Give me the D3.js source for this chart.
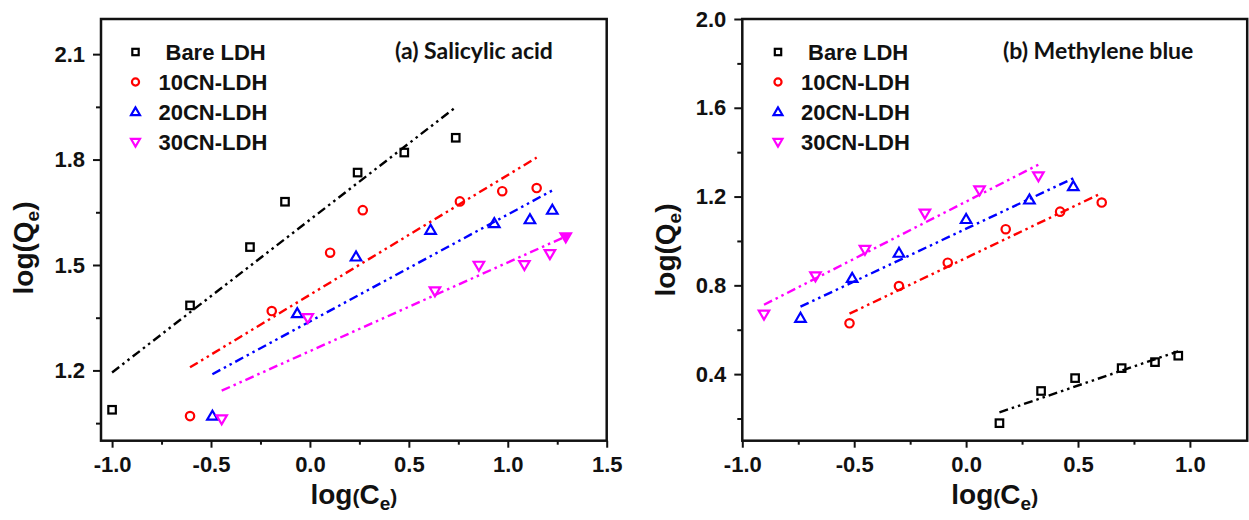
<!DOCTYPE html>
<html><head><meta charset="utf-8">
<script src="https://cdn.jsdelivr.net/npm/d3@7"></script>
<style>
html,body{margin:0;padding:0;background:#fff;}
svg{display:block;}
text{font-family:"Liberation Sans",Arial,sans-serif;font-weight:bold;fill:#111;}
.title{font-family:Lato,"Open Sans",sans-serif;font-weight:bold;}
</style></head>
<body>
<svg id="chart" width="1249" height="520"></svg>
<script>
// ---------- data ----------
const seriesNames = ["Bare LDH", "10CN-LDH", "20CN-LDH", "30CN-LDH"];
const seriesColors = ["#000000", "#ff0000", "#0000ff", "#ff00ff"];

// (a) Salicylic acid
const bareA_x = [-1.0, -0.606, -0.303, -0.126, 0.241, 0.477, 0.737];
const bareA_y = [1.088, 1.385, 1.551, 1.680, 1.763, 1.820, 1.862];
const cn10A_x = [-0.606, -0.193, 0.102, 0.267, 0.758, 0.972, 1.146];
const cn10A_y = [1.070, 1.369, 1.535, 1.656, 1.681, 1.710, 1.719];
const cn20A_x = [-0.493, -0.064, 0.233, 0.610, 0.932, 1.112, 1.225];
const cn20A_y = [1.070, 1.362, 1.523, 1.599, 1.618, 1.629, 1.656];
const cn30A_x = [-0.446, -0.011, 0.632, 0.854, 1.084, 1.213, 1.293];
const cn30A_y = [1.062, 1.350, 1.426, 1.499, 1.501, 1.532, 1.580];

// (b) Methylene blue
const bareB_x = [0.149, 0.335, 0.487, 0.695, 0.844, 0.948];
const bareB_y = [0.179, 0.324, 0.382, 0.427, 0.454, 0.483];
const cn10B_x = [-0.521, -0.300, -0.082, 0.177, 0.420, 0.606];
const cn10B_y = [0.629, 0.797, 0.902, 1.053, 1.132, 1.173];
const cn20B_x = [-0.740, -0.509, -0.300, 0.000, 0.283, 0.479];
const cn20B_y = [0.652, 0.832, 0.945, 1.097, 1.185, 1.245];
const cn30B_x = [-0.903, -0.673, -0.452, -0.184, 0.060, 0.323];
const cn30B_y = [0.670, 0.842, 0.962, 1.125, 1.230, 1.293];

// axes
const xTicksA = [-1.0, -0.5, 0.0, 0.5, 1.0, 1.5];
const xMinorA = [-0.75, -0.25, 0.25, 0.75, 1.25];
const yTicksA = [1.2, 1.5, 1.8, 2.1];
const yMinorA = [1.05, 1.35, 1.65, 1.95];
const xTicksB = [-1.0, -0.5, 0.0, 0.5, 1.0];
const xMinorB = [-0.75, -0.25, 0.25, 0.75];
const yTicksB = [0.4, 0.8, 1.2, 1.6, 2.0];
const yMinorB = [0.2, 0.6, 1.0, 1.4, 1.8];
const titleA = "(a) Salicylic acid";
const titleB = "(b) Methylene blue";

// ---------- drawing ----------
const svg = d3.select("#chart");

function regression(xs, ys) {
  const mx = d3.mean(xs), my = d3.mean(ys);
  let sxy = 0, sxx = 0;
  xs.forEach((x, i) => { sxy += (x - mx) * (ys[i] - my); sxx += (x - mx) * (x - mx); });
  const b = sxy / sxx, a = my - b * mx;
  const x0 = d3.min(xs), x1 = d3.max(xs);
  return [[x0, a + b * x0], [x1, a + b * x1]];
}

function marker(g, k, cx, cy, scale, filled) {
  const col = seriesColors[k];
  let el;
  if (k === 0) {
    const s = 7.5 * scale;
    el = g.append("rect").attr("x", cx - s / 2).attr("y", cy - s / 2).attr("width", s).attr("height", s);
  } else if (k === 1) {
    el = g.append("circle").attr("cx", cx).attr("cy", cy).attr("r", 4.2 * scale);
  } else {
    const w = 10.5 * scale, h = 9 * scale;
    const dir = k === 2 ? 1 : -1;
    const pts = [[cx, cy - dir * h * 0.6], [cx - w / 2, cy + dir * h * 0.4], [cx + w / 2, cy + dir * h * 0.4]];
    el = g.append("path").attr("d", "M" + pts.map(p => p.join(",")).join("L") + "Z");
  }
  el.attr("fill", filled ? col : "none").attr("stroke", col).attr("stroke-width", 2.2);
}

function panel(cfg) {
  const x = d3.scaleLinear().domain(cfg.xDom).range([cfg.left, cfg.right]);
  const y = d3.scaleLinear().domain(cfg.yDom).range([cfg.bottom, cfg.top]);
  const g = svg.append("g");

  // fit lines
  cfg.series.forEach((s, k) => {
    const seg = regression(s[0], s[1]);
    g.append("path")
      .attr("d", d3.line().x(d => x(d[0])).y(d => y(d[1]))(seg))
      .attr("fill", "none").attr("stroke", seriesColors[k]).attr("stroke-width", 2.4)
      .attr("stroke-dasharray", "9,4,2.5,4,2.5,4");
  });
  // markers
  cfg.series.forEach((s, k) => {
    s[0].forEach((xv, i) => {
      const filled = cfg.fillLast === k && i === s[0].length - 1;
      marker(g, k, x(xv), y(s[1][i]), 1, filled);
    });
  });

  // axes
  const ax = g.append("g").attr("transform", `translate(0,${cfg.bottom})`)
    .call(d3.axisBottom(x).tickValues(cfg.xTicks).tickFormat(d3.format(".1f")).tickSize(7).tickPadding(9));
  const axm = g.append("g").attr("transform", `translate(0,${cfg.bottom})`)
    .call(d3.axisBottom(x).tickValues(cfg.xMinor).tickFormat("").tickSize(4));
  const ay = g.append("g").attr("transform", `translate(${cfg.left},0)`)
    .call(d3.axisLeft(y).tickValues(cfg.yTicks).tickFormat(d3.format(".1f")).tickSize(8).tickPadding(8));
  const aym = g.append("g").attr("transform", `translate(${cfg.left},0)`)
    .call(d3.axisLeft(y).tickValues(cfg.yMinor).tickFormat("").tickSize(5));
  [ax, axm, ay, aym].forEach(a => {
    a.select(".domain").remove();
    a.selectAll("line").attr("stroke", "#111").attr("stroke-width", 2);
    a.selectAll("text").attr("font-size", 22).attr("font-family", "Liberation Sans, Arial, sans-serif")
      .attr("font-weight", "bold").attr("fill", "#111");
  });
  ax.selectAll("text").text(d => d3.format(".1f")(d).replace("−", "-"));

  // frame
  g.append("rect").attr("x", cfg.left).attr("y", cfg.top)
    .attr("width", cfg.right - cfg.left).attr("height", cfg.bottom - cfg.top)
    .attr("fill", "none").attr("stroke", "#111").attr("stroke-width", 2.5);

  // title
  g.append("text").attr("class", "title").attr("x", cfg.titleX).attr("y", 59)
    .attr("font-size", 23).text(cfg.title);

  // legend
  seriesNames.forEach((n, k) => {
    const ly = 52 + 30 * k;
    marker(g, k, cfg.legX, ly, 0.85, false);
    g.append("text").attr("x", k === 0 ? cfg.legX + 30 : cfg.legX + 23).attr("y", ly + 8)
      .attr("font-size", 22).text(n);
  });

  // x label
  const xl = g.append("text").attr("x", (cfg.left + cfg.right) / 2).attr("y", 504)
    .attr("text-anchor", "middle").attr("font-size", 28);
  xl.append("tspan").text("log");
  xl.append("tspan").attr("font-size", 21).text("(");
  xl.append("tspan").text("C");
  xl.append("tspan").attr("font-size", 19).attr("dy", 6).text("e");
  xl.append("tspan").attr("font-size", 21).attr("dy", -6).text(")");

  // y label
  const yl = g.append("text").attr("transform", `translate(${cfg.yLabX},${cfg.yLabY}) rotate(-90)`)
    .attr("text-anchor", "middle").attr("font-size", 28);
  yl.append("tspan").text("log(Q");
  yl.append("tspan").attr("font-size", 19).attr("dy", 6).text("e");
  yl.append("tspan").attr("dy", -6).text(")");
}

panel({
  left: 101, right: 606.7, top: 19, bottom: 440.7,
  xDom: [-1.056, 1.5], yDom: [1.0, 2.2],
  xTicks: xTicksA, xMinor: xMinorA, yTicks: yTicksA, yMinor: yMinorA,
  series: [[bareA_x, bareA_y], [cn10A_x, cn10A_y], [cn20A_x, cn20A_y], [cn30A_x, cn30A_y]],
  fillLast: 3,
  title: titleA, titleX: 395, legX: 135.5, yLabX: 33, yLabY: 248
});
panel({
  left: 742.3, right: 1247.2, top: 19, bottom: 440.7,
  xDom: [-1.0, 1.256], yDom: [0.1, 2.0],
  xTicks: xTicksB, xMinor: xMinorB, yTicks: yTicksB, yMinor: yMinorB,
  series: [[bareB_x, bareB_y], [cn10B_x, cn10B_y], [cn20B_x, cn20B_y], [cn30B_x, cn30B_y]],
  fillLast: -1,
  title: titleB, titleX: 1003, legX: 778, yLabX: 675, yLabY: 250
});
</script>
</body></html>
